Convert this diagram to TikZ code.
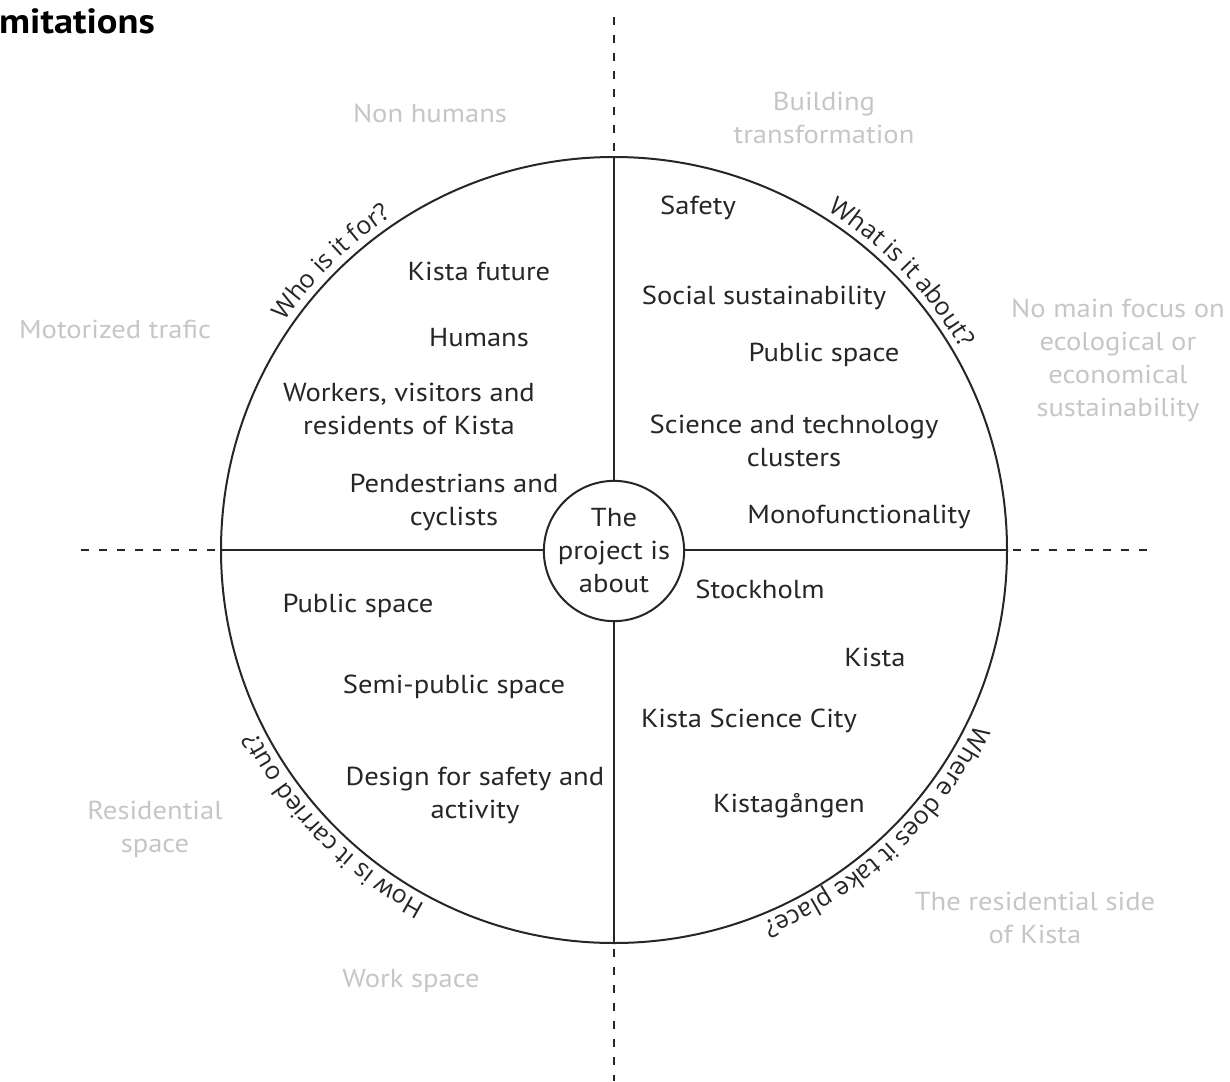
\documentclass[tikz,border=0pt]{standalone}
\usepackage{fontspec}
\setmainfont{PT Sans}[FakeStretch=1.1]
\newfontfamily\curvefont{Open Sans}
\usetikzlibrary{decorations.text}
\definecolor{ink}{HTML}{262626}
\definecolor{faint}{HTML}{C6C6C6}
\tikzset{
  blk/.style={font=\fontsize{26}{33}\selectfont, text=ink, align=center, inner sep=0pt},
  gry/.style={font=\fontsize{26}{33}\selectfont, text=faint, align=center, inner sep=0pt},
  axis/.style={line width=2pt, draw=ink},
  dashaxis/.style={line width=2pt, draw=ink, dash pattern=on 8pt off 10pt, dash phase=12pt},
  curvetext/.style={decorate, decoration={text along path, text align=center,
     text={|\curvefont\fontsize{25}{30}\selectfont\color{ink}|#1}}}
}
\begin{document}
\begin{tikzpicture}[x=1pt,y=1pt]
\useasboundingbox (0,0) rectangle (1230,-1081);
% circles
\node[circle, draw=ink, line width=2pt, minimum size=786pt, inner sep=0pt, outer sep=0pt] (outer) at (614,-550) {};
\node[circle, draw=ink, line width=2pt, minimum size=138pt, inner sep=0pt, outer sep=0pt, blk] (core) at (614,-551) {The\\project is\\about};
% axes
\draw[axis] (outer.west) -- (core.west |- outer.west);
\draw[axis] (core.east |- outer.east) -- (outer.east);
\draw[axis] (outer.north) -- (core.north);
\draw[axis] (core.south) -- (outer.south);
\coordinate (dl) at (80,-550);
\coordinate (dr) at (1150,-550);
\coordinate (dt) at (614,-15);
\coordinate (db) at (614,-1081);
\draw[dashaxis] (outer.west) -- (dl);
\draw[dashaxis] (outer.east) -- (dr);
\draw[dashaxis] (outer.north) -- (dt);
\draw[dashaxis] (outer.south) -- (db);
% curved labels
\path[curvetext={Who is it for?}] (outer.center) ++(170:401pt) arc[start angle=170, end angle=99, radius=401pt];
\path[curvetext={What is it about?}] (outer.center) ++(80:401pt) arc[start angle=80, end angle=8, radius=401pt];
\path[curvetext={Where does it take place?}] (outer.center) ++(-7:401pt) arc[start angle=-7, end angle=-87, radius=401pt];
\path[curvetext={How is it carried out?}] (outer.center) ++(262:401pt) arc[start angle=262, end angle=187, radius=401pt];
% title
\node[anchor=base east, inner sep=0pt, font=\bfseries\fontsize{35}{40}\selectfont, text=black] (title) at (155,-34) {mitations};
% gray limits
\node[gry] (nonhum) at (430,-113) {Non humans};
\node[gry] (build) at (824,-118) {Building\\transformation};
\node[gry] (motor) at (115,-329) {Motorized trafic};
\node[gry] (nofocus) at (1118,-360) {No main focus on\\ecological or\\economical\\sustainability};
\node[gry] (resid) at (155,-829) {Residential\\space};
\node[gry] (work) at (411,-981) {Work space};
\node[gry] (resside) at (1035,-918) {The residential side\\of Kista};
% who
\node[blk] (future) at (479,-271) {Kista future};
\node[blk] (humans) at (479,-338) {Humans};
\node[blk] (workers) at (409,-409) {Workers, visitors and\\residents of Kista};
\node[blk] (peds) at (454,-502) {Pendestrians and\\cyclists};
% what
\node[blk] (safety) at (698,-208) {Safety};
\node[blk] (social) at (764,-298) {Social sustainability};
\node[blk] (pubsp1) at (824,-355) {Public space};
\node[blk] (science) at (794,-441) {Science and technology\\clusters};
\node[blk] (mono) at (859,-517) {Monofunctionality};
% where
\node[blk] (sthlm) at (760,-589) {Stockholm};
\node[blk] (kista) at (875,-657) {Kista};
\node[blk] (ksc) at (749,-721) {Kista Science City};
\node[blk] (kgang) at (789,-806) {Kistagången};
% how
\node[blk] (pubsp2) at (358,-606) {Public space};
\node[blk] (semi) at (454,-687) {Semi-public space};
\node[blk] (design) at (475,-795) {Design for safety and\\activity};
\end{tikzpicture}
\end{document}
